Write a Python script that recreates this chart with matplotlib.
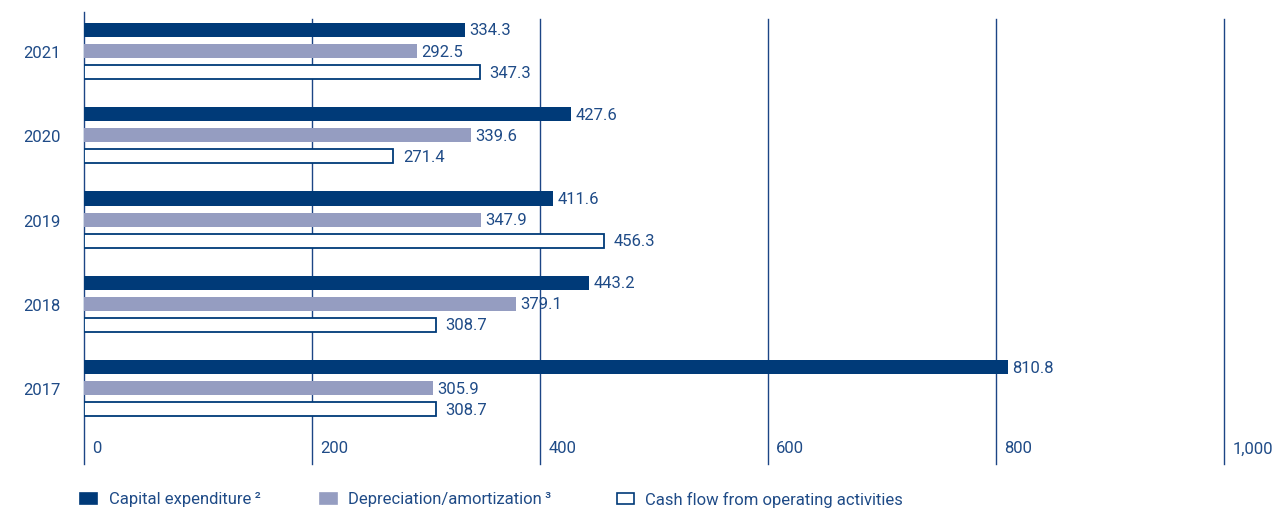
import matplotlib
matplotlib.use("Agg")
import matplotlib.pyplot as plt
from matplotlib.patches import Rectangle

years = ["2017", "2018", "2019", "2020", "2021"]
capex = [810.8, 443.2, 411.6, 427.6, 334.3]
depreciation = [305.9, 379.1, 347.9, 339.6, 292.5]
cash_flow = [308.7, 308.7, 456.3, 271.4, 347.3]
x_ticks = [0, 200, 400, 600, 800, 1000]
x_tick_labels = ["0", "200", "400", "600", "800", "1,000"]
legend_labels = ["Capital expenditure\u2009\u00b2", "Depreciation/amortization\u2009\u00b3",
                 "Cash flow from operating activities"]

NAVY = "#003a78"
GREY = "#959dc1"
TEXT = "#1f4b87"
LINE = "#1c4585"

plt.rcParams["font.family"] = ["Roboto", "DejaVu Sans"]
FS = 12

W, H = 1281, 510
fig = plt.figure(figsize=(W / 100, H / 100), dpi=100)
left, right, top, bottom = 84, 1224, 20, 465
ax = fig.add_axes([left / W, 1 - bottom / H, (right - left) / W, (bottom - top) / H])

ax.set_xlim(0, 1000)
ax.set_ylim(-0.90, 4.38)
for s in ax.spines.values():
    s.set_visible(False)

for v in x_ticks:
    ymax = 1.016 if v == 0 else 1.0
    ax.axvline(v, ymax=ymax, color=LINE, lw=1.0, zorder=0, clip_on=False)

pos = list(range(len(years)))
off = 0.25
h = 0.168
ax.barh([p + off for p in pos], capex, height=h, color=NAVY, zorder=2)
ax.barh(pos, depreciation, height=h, color=GREY, zorder=2)
ax.barh([p - off for p in pos], cash_flow, height=h, color="white",
        edgecolor=NAVY, linewidth=1.3, zorder=2)

for p, c, d, f in zip(pos, capex, depreciation, cash_flow):
    ax.annotate(f"{c:.1f}", (c, p + off), xytext=(3, 0), textcoords="offset points",
                va="center", ha="left", fontsize=FS, color=TEXT)
    ax.annotate(f"{d:.1f}", (d, p), xytext=(3, 0), textcoords="offset points",
                va="center", ha="left", fontsize=FS, color=TEXT)
    ax.annotate(f"{f:.1f}", (f, p - off), xytext=(7, 0), textcoords="offset points",
                va="center", ha="left", fontsize=FS, color=TEXT)

ax.set_xticks([])
ax.set_yticks(pos)
ax.set_yticklabels(years, fontsize=FS, color=TEXT)
ax.tick_params(axis="y", length=0, pad=17)

for v, lab in zip(x_ticks, x_tick_labels):
    ax.annotate(lab, (v, -0.71), xytext=(6, 0), textcoords="offset points",
                va="center", ha="left", fontsize=FS, color=TEXT)

# legend
leg_y = 1 - 505 / H
sq_w, sq_h = 17 / W, 11 / H
for lx, tx, lab, fc in [(80, 109, legend_labels[0], NAVY),
                        (320, 348, legend_labels[1], GREY),
                        (617, 645, legend_labels[2], "white")]:
    ec = NAVY if fc == "white" else fc
    fig.patches.append(Rectangle((lx / W, leg_y), sq_w, sq_h, transform=fig.transFigure,
                                 facecolor=fc, edgecolor=ec, linewidth=1.2))
    fig.text(tx / W, 1 - 500 / H, lab, va="center", ha="left", fontsize=FS, color=TEXT)

fig.savefig("out.png", dpi=100)
